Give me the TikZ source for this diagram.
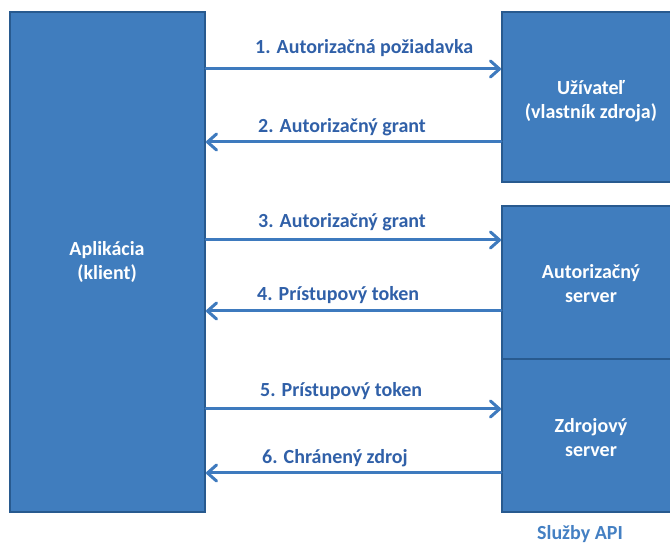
\documentclass[tikz,border=0pt]{standalone}
\usepackage{fontspec}
\setmainfont{Carlito}
\usetikzlibrary{arrows.meta}

\definecolor{boxfill}{RGB}{64,125,190}
\definecolor{boxedge}{RGB}{40,90,143}
\definecolor{arrowblue}{RGB}{62,122,190}
\definecolor{labelblue}{RGB}{48,96,168}
\definecolor{apiblue}{RGB}{68,128,195}

\tikzset{
  x=1pt, y=-1pt,
  party/.style={draw=boxedge, line width=2pt, fill=boxfill},
  partytext/.style={text=white, font=\bfseries\fontsize{20}{24}\selectfont, align=center},
  msg/.style={draw=arrowblue, line width=3pt, line cap=round,
    -{Straight Barb[length=9pt, width=16pt, line width=3pt, round]}},
  msglabel/.style={text=labelblue, font=\bfseries\fontsize{20}{24}\selectfont, anchor=base west, inner sep=0pt},
}

\begin{document}
\begin{tikzpicture}
  \useasboundingbox (0,0) rectangle (670,545);

  % participants
  \draw[party] (10,12) rectangle (205,512);
  \draw[party] (502,12) rectangle (680,182);
  \draw[party] (502,206) rectangle (680,359);
  \draw[party] (502,359) rectangle (680,512);

  \node[partytext] (app) at (107,262) {Aplikácia\\(klient)};
  \node[partytext] (owner) at (591,101) {Užívateľ\\(vlastník zdroja)};
  \node[partytext] (authsrv) at (591,284) {Autorizačný\\server};
  \node[partytext] (ressrv) at (591,438) {Zdrojový\\server};

  % connector end points on the box edges
  \coordinate (a1) at (206,69);  \coordinate (b1) at (501,69);
  \coordinate (a2) at (206,142); \coordinate (b2) at (501,142);
  \coordinate (a3) at (206,240); \coordinate (b3) at (501,240);
  \coordinate (a4) at (206,311); \coordinate (b4) at (501,311);
  \coordinate (a5) at (206,409); \coordinate (b5) at (501,409);
  \coordinate (a6) at (206,473); \coordinate (b6) at (501,473);

  % messages
  \draw[msg] (a1) -- (b1);
  \draw[msg] (b2) -- (a2);
  \draw[msg] (a3) -- (b3);
  \draw[msg] (b4) -- (a4);
  \draw[msg] (a5) -- (b5);
  \draw[msg] (b6) -- (a6);

  \node[msglabel] (l1) at (255,54) {1. Autorizačná požiadavka};
  \node[msglabel] (l2) at (258,133) {2. Autorizačný grant};
  \node[msglabel] (l3) at (258,228) {3. Autorizačný grant};
  \node[msglabel] (l4) at (257,301) {4. Prístupový token};
  \node[msglabel] (l5) at (260,397) {5. Prístupový token};
  \node[msglabel] (l6) at (262,464) {6. Chránený zdroj};

  \node[text=apiblue, font=\bfseries\fontsize{20}{24}\selectfont, anchor=base, inner sep=0pt] (api) at (580,539) {Služby API};
\end{tikzpicture}
\end{document}
